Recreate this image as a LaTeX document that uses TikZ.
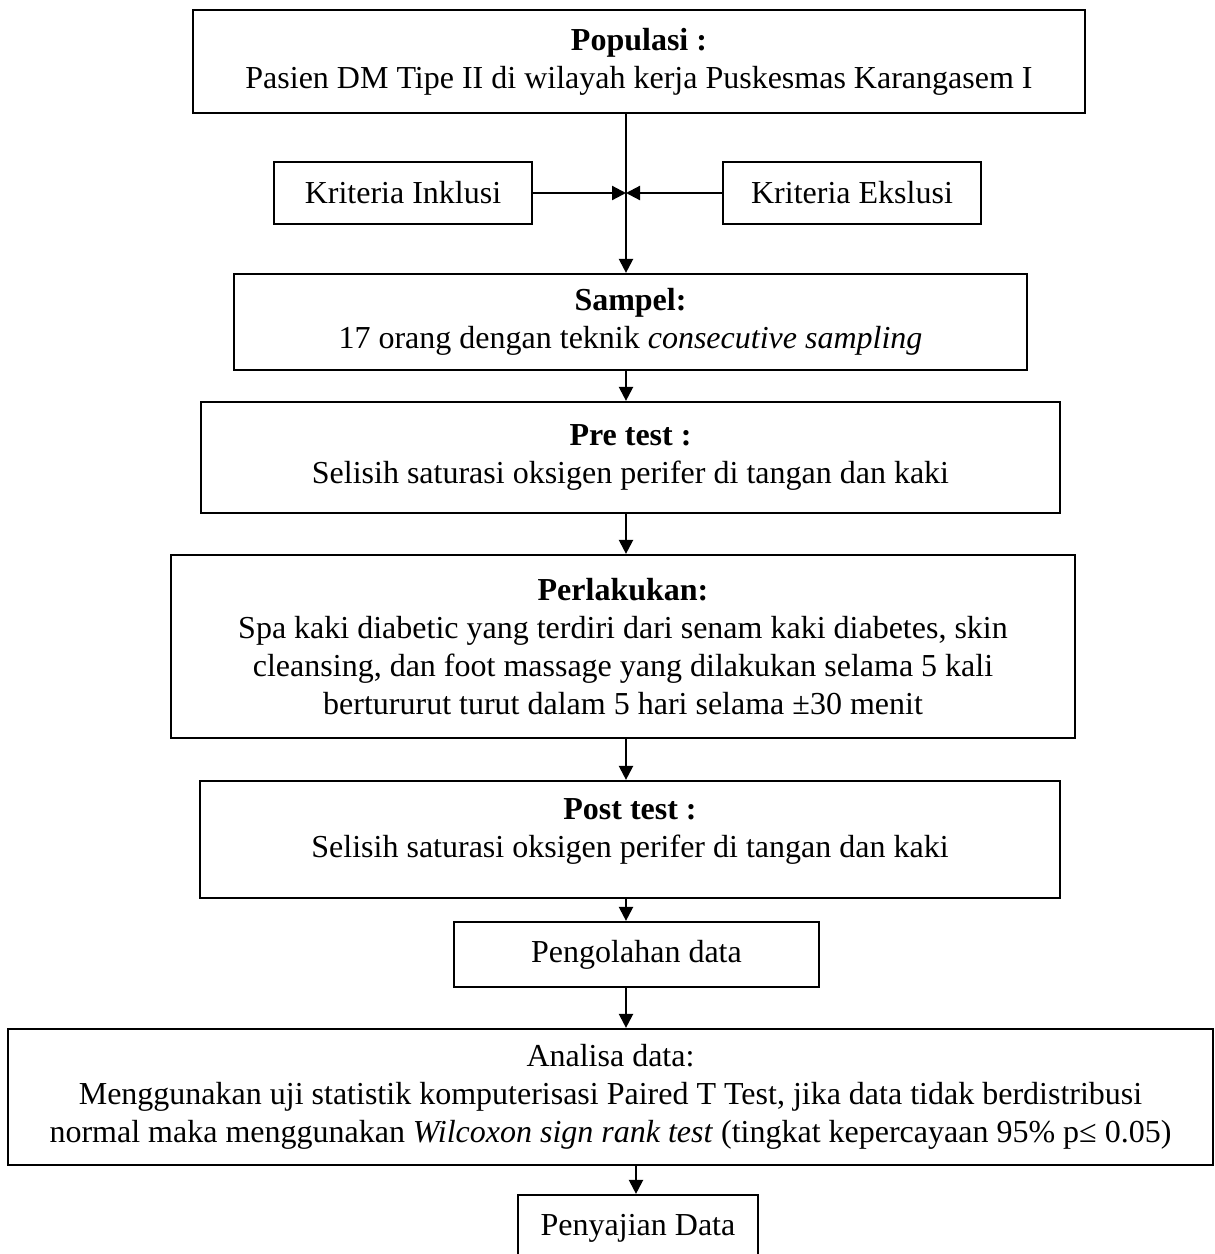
\documentclass[tikz,border=0pt]{standalone}
\usepackage{fontspec}
\setmainfont{Liberation Serif}
\usetikzlibrary{arrows.meta}
\tikzset{
  box/.style={draw=black, line width=2.2pt, rectangle, inner sep=0pt, align=center,
    font=\fontsize{32}{38}\selectfont},
  txt/.style={inner sep=0pt, align=center, font=\fontsize{32}{38}\selectfont},
  arr/.style={line width=2.2pt, -{Triangle[length=14pt,width=14pt]}},
  ln/.style={line width=2.2pt}
}
\begin{document}
\begin{tikzpicture}[x=1pt,y=-1pt]
\useasboundingbox (0,0) rectangle (1215,1254);
\coordinate (vx) at (626,0);
\coordinate (vy) at (636,0);

\node[box, minimum width=892pt, minimum height=103pt] (pop) at (639,61.5)
  {\textbf{Populasi :}\\Pasien DM Tipe II di wilayah kerja Puskesmas Karangasem I};
\node[box, minimum width=258pt, minimum height=62pt] (inkl) at (403,193) {Kriteria Inklusi};
\node[box, minimum width=258pt, minimum height=62pt] (eksl) at (852,193) {Kriteria Ekslusi};
\node[box, minimum width=793pt, minimum height=96pt] (sampel) at (630.5,322)
  {\textbf{Sampel:}\\17 orang dengan teknik \textit{consecutive sampling}};
\node[box, minimum width=859pt, minimum height=111pt] (pre) at (630.5,457.5)
  {\textbf{Pre test :}\\Selisih saturasi oksigen perifer di tangan dan kaki};
\node[box, minimum width=904pt, minimum height=183pt] (perl) at (623,646.5)
  {\textbf{Perlakukan:}\\Spa kaki diabetic yang terdiri dari senam kaki diabetes, skin\\cleansing, dan foot massage yang dilakukan selama 5 kali\\bertururut turut dalam 5 hari selama ±30 menit};
\node[box, minimum width=860pt, minimum height=117pt] (post) at (630,839.5) {};
\node[txt] (posttxt) at (630,831)
  {\textbf{Post test :}\\Selisih saturasi oksigen perifer di tangan dan kaki};
\node[box, minimum width=365pt, minimum height=65pt] (olah) at (636.5,954.5) {Pengolahan data};
\node[box, minimum width=1205pt, minimum height=136pt] (anal) at (610.5,1097)
  {Analisa data:\\Menggunakan uji statistik komputerisasi Paired T Test, jika data tidak berdistribusi\\normal maka menggunakan \textit{Wilcoxon sign rank test} (tingkat kepercayaan 95\% p≤ 0.05)};
\node[box, minimum width=240pt, minimum height=66pt] (saji) at (638,1228) {Penyajian Data};

\draw[arr] (pop.south -| vx) -- (sampel.north -| vx);
\draw[arr] (inkl.east) -- (inkl.east -| vx);
\draw[arr] (eksl.west) -- (eksl.west -| vx);
\draw[arr] (sampel.south -| vx) -- (pre.north -| vx);
\draw[arr] (pre.south -| vx) -- (perl.north -| vx);
\draw[arr] (perl.south -| vx) -- (post.north -| vx);
\draw[arr] (post.south -| vx) -- (olah.north -| vx);
\draw[arr] (olah.south -| vx) -- (anal.north -| vx);
\draw[arr] (anal.south -| vy) -- (saji.north -| vy);
\end{tikzpicture}
\end{document}
